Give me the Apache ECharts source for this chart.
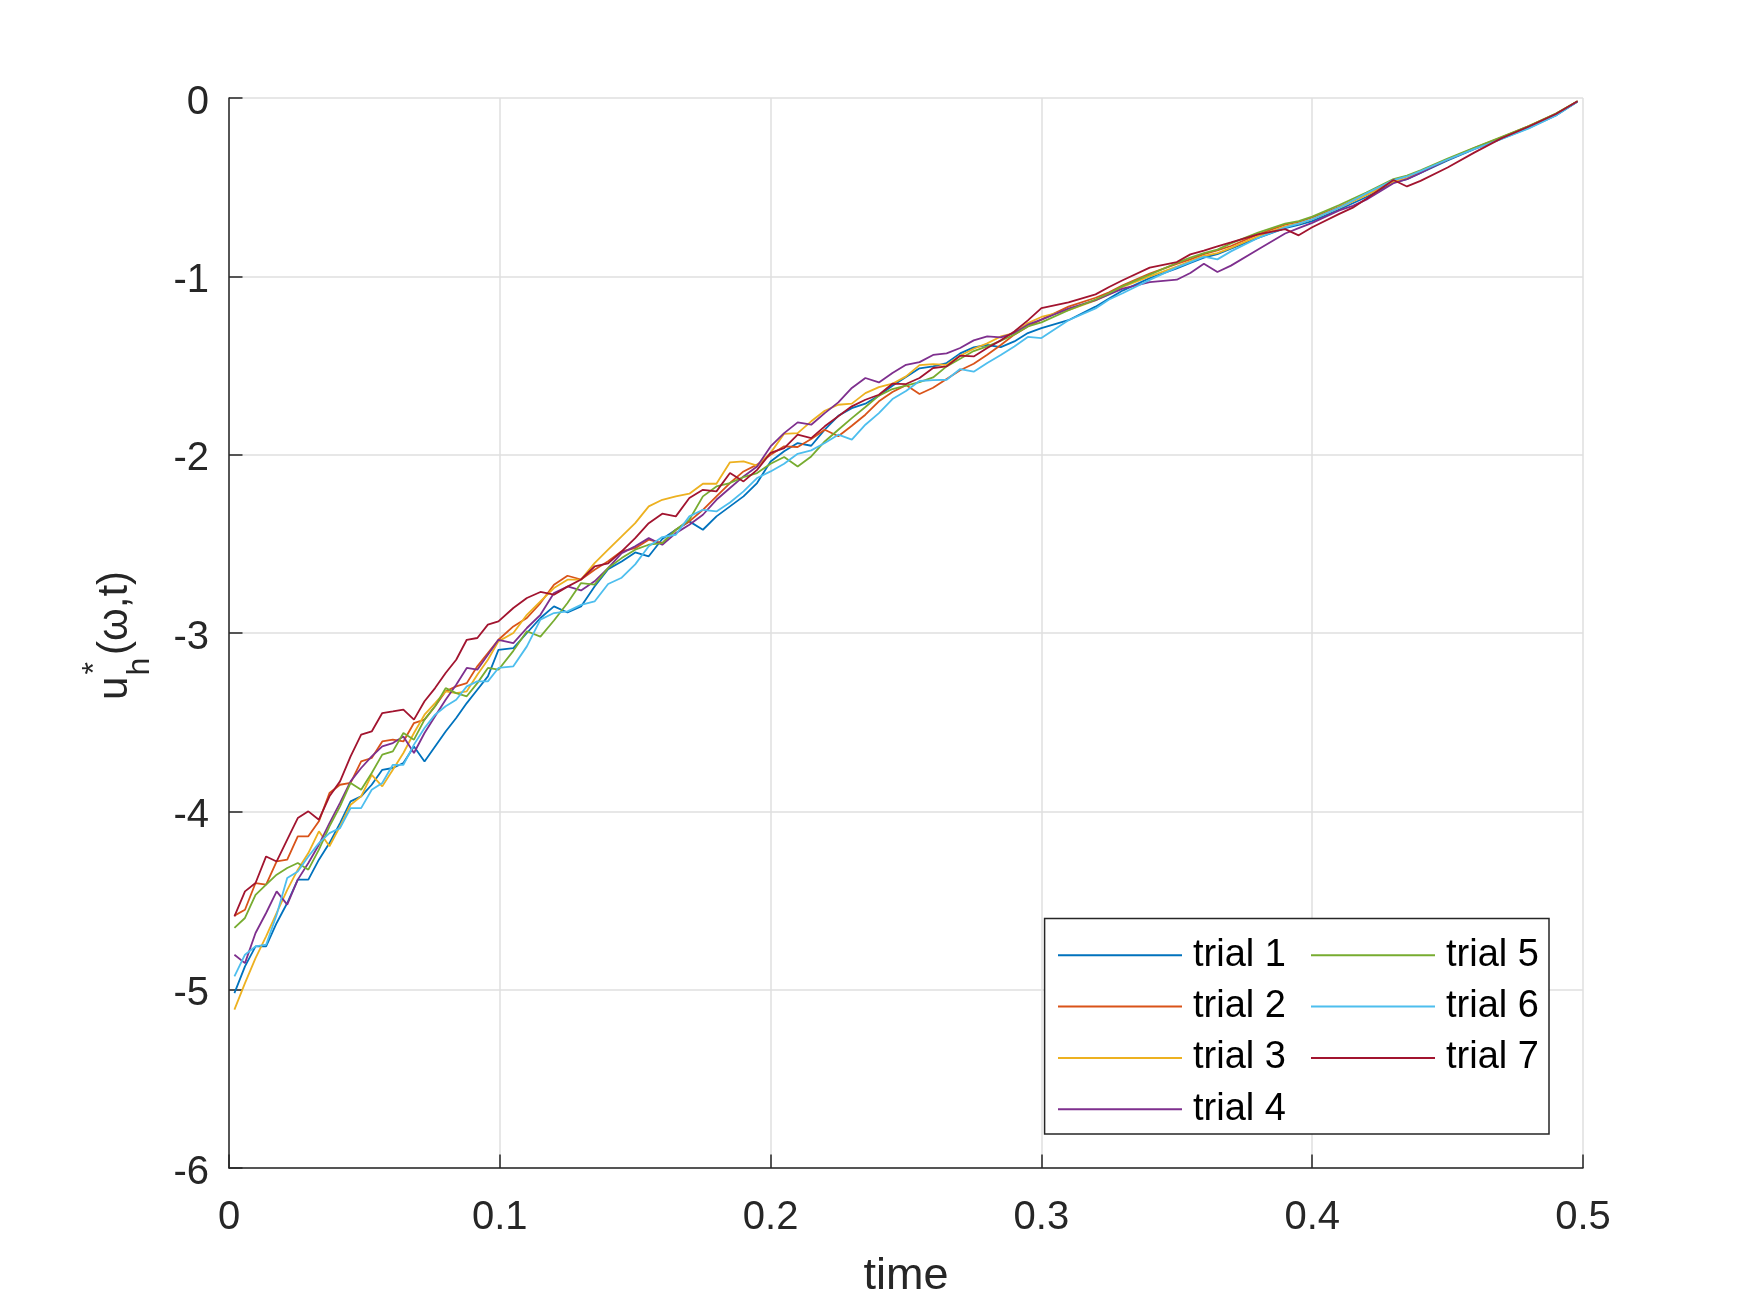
<!DOCTYPE html>
<html><head><meta charset="utf-8">
<script src="https://cdn.jsdelivr.net/npm/echarts@6/dist/echarts.min.js"></script>
<style>html,body{margin:0;padding:0;background:#fff}#c{width:1750px;height:1313px}</style>
</head><body><div id="c"></div>
<script>
// ---- data ----
const time = [
0.002,0.0059,0.0098,0.0137,0.0176,0.0215,0.0254,0.0293,0.0332,0.0371,0.041,0.0449,0.0488,0.0527,0.0566,0.0605,0.0644,0.0683,0.0722,0.0761,0.08,0.0839,0.0878,0.0917,0.0956,0.0995,
0.105,0.11,0.115,0.12,0.125,0.13,0.135,0.14,0.145,0.15,0.155,0.16,0.165,0.17,0.175,0.18,0.185,0.19,0.195,0.2,
0.205,0.21,0.215,0.22,0.225,0.23,0.235,0.24,0.245,0.25,
0.255,0.26,0.265,0.27,0.275,0.28,0.285,0.29,0.295,0.3,
0.31,0.32,0.325,0.33,0.34,0.35,0.355,0.36,0.365,0.37,0.38,0.39,0.395,0.4,0.41,0.415,0.42,0.43,0.435,0.44,0.45,0.46,0.47,0.48,0.49,0.498];

const trial1 = [
-5.019,-4.869,-4.757,-4.757,-4.626,-4.514,-4.383,-4.383,-4.271,-4.178,-4.066,-3.944,-3.916,-3.851,-3.767,-3.757,-3.729,-3.636,-3.72,-3.636,-3.552,-3.477,-3.393,-3.318,-3.243,-3.095,
-3.085,-3.0,-2.916,-2.851,-2.885,-2.851,-2.739,-2.642,-2.599,-2.548,-2.57,-2.473,-2.421,-2.374,-2.421,-2.346,-2.29,-2.234,-2.159,-2.038,
-1.981,-1.935,-1.95,-1.86,-1.782,-1.739,-1.714,-1.669,-1.613,-1.565,
-1.516,-1.505,-1.486,-1.432,-1.398,-1.385,-1.397,-1.365,-1.318,-1.29,
-1.246,-1.17,-1.125,-1.08,-1.01,-0.955,-0.925,-0.895,-0.875,-0.845,-0.785,-0.73,-0.712,-0.69,-0.625,-0.59,-0.555,-0.475,-0.455,-0.42,-0.35,-0.285,-0.228,-0.168,-0.098,-0.02];

const trial2 = [
-4.585,-4.552,-4.402,-4.411,-4.281,-4.271,-4.14,-4.14,-4.056,-3.897,-3.851,-3.841,-3.72,-3.701,-3.608,-3.598,-3.608,-3.505,-3.486,-3.411,-3.327,-3.299,-3.281,-3.187,-3.112,-3.038,
-2.963,-2.916,-2.832,-2.729,-2.679,-2.70,-2.645,-2.598,-2.542,-2.524,-2.477,-2.496,-2.421,-2.374,-2.309,-2.234,-2.159,-2.094,-2.056,-2.0,
-1.953,-1.957,-1.912,-1.86,-1.897,-1.838,-1.776,-1.701,-1.649,-1.61,
-1.66,-1.625,-1.576,-1.527,-1.49,-1.44,-1.385,-1.327,-1.281,-1.243,
-1.17,-1.12,-1.09,-1.05,-0.985,-0.93,-0.905,-0.875,-0.855,-0.83,-0.765,-0.71,-0.695,-0.67,-0.61,-0.575,-0.54,-0.46,-0.44,-0.41,-0.345,-0.28,-0.22,-0.158,-0.088,-0.018];

const trial3 = [
-5.112,-4.963,-4.823,-4.701,-4.57,-4.44,-4.327,-4.234,-4.112,-4.196,-4.084,-3.963,-3.916,-3.795,-3.86,-3.767,-3.673,-3.561,-3.458,-3.393,-3.327,-3.337,-3.327,-3.234,-3.15,-3.047,
-3.0,-2.898,-2.823,-2.748,-2.701,-2.701,-2.608,-2.533,-2.458,-2.384,-2.29,-2.253,-2.234,-2.219,-2.163,-2.163,-2.043,-2.038,-2.062,-1.99,
-1.883,-1.879,-1.813,-1.754,-1.72,-1.714,-1.655,-1.621,-1.602,-1.561,
-1.498,-1.492,-1.496,-1.445,-1.406,-1.376,-1.337,-1.318,-1.262,-1.228,
-1.19,-1.135,-1.10,-1.06,-1.0,-0.945,-0.915,-0.885,-0.87,-0.84,-0.775,-0.72,-0.705,-0.68,-0.615,-0.58,-0.545,-0.47,-0.45,-0.415,-0.345,-0.282,-0.22,-0.158,-0.088,-0.018];

const trial4 = [
-4.804,-4.851,-4.682,-4.57,-4.449,-4.523,-4.383,-4.29,-4.187,-4.066,-3.953,-3.832,-3.757,-3.692,-3.636,-3.617,-3.58,-3.673,-3.561,-3.467,-3.374,-3.29,-3.196,-3.206,-3.122,-3.038,
-3.057,-2.972,-2.898,-2.776,-2.739,-2.761,-2.71,-2.636,-2.552,-2.514,-2.468,-2.505,-2.44,-2.393,-2.337,-2.253,-2.187,-2.122,-2.066,-1.954,
-1.879,-1.819,-1.832,-1.767,-1.707,-1.626,-1.57,-1.595,-1.542,-1.496,
-1.481,-1.441,-1.432,-1.402,-1.359,-1.337,-1.342,-1.318,-1.271,-1.243,
-1.181,-1.134,-1.101,-1.069,-1.032,-1.019,-0.981,-0.929,-0.976,-0.94,-0.85,-0.76,-0.73,-0.70,-0.63,-0.605,-0.57,-0.478,-0.455,-0.42,-0.345,-0.283,-0.222,-0.16,-0.092,-0.02];

const trial5 = [
-4.654,-4.598,-4.468,-4.411,-4.355,-4.318,-4.29,-4.327,-4.215,-4.084,-3.972,-3.841,-3.879,-3.785,-3.682,-3.664,-3.561,-3.598,-3.486,-3.411,-3.309,-3.337,-3.355,-3.281,-3.196,-3.206,
-3.10,-2.99,-3.02,-2.93,-2.832,-2.72,-2.729,-2.636,-2.58,-2.533,-2.505,-2.496,-2.421,-2.365,-2.234,-2.178,-2.159,-2.126,-2.103,-2.051,
-2.013,-2.066,-2.01,-1.926,-1.86,-1.795,-1.733,-1.669,-1.632,-1.613,
-1.593,-1.567,-1.505,-1.462,-1.419,-1.393,-1.361,-1.326,-1.281,-1.258,
-1.19,-1.13,-1.095,-1.055,-0.99,-0.925,-0.895,-0.87,-0.85,-0.815,-0.755,-0.705,-0.69,-0.665,-0.60,-0.565,-0.53,-0.455,-0.435,-0.405,-0.34,-0.278,-0.218,-0.157,-0.087,-0.018];

const trial6 = [
-4.925,-4.804,-4.757,-4.748,-4.58,-4.374,-4.337,-4.253,-4.178,-4.122,-4.094,-3.982,-3.982,-3.879,-3.841,-3.739,-3.739,-3.626,-3.533,-3.458,-3.411,-3.374,-3.299,-3.271,-3.271,-3.196,
-3.187,-3.075,-2.925,-2.888,-2.879,-2.842,-2.823,-2.725,-2.69,-2.615,-2.514,-2.462,-2.449,-2.346,-2.309,-2.318,-2.268,-2.206,-2.131,-2.094,
-2.051,-1.995,-1.976,-1.935,-1.888,-1.916,-1.832,-1.767,-1.688,-1.643,
-1.587,-1.582,-1.58,-1.52,-1.535,-1.486,-1.441,-1.393,-1.34,-1.346,
-1.246,-1.18,-1.13,-1.095,-1.02,-0.95,-0.92,-0.89,-0.905,-0.86,-0.785,-0.725,-0.705,-0.68,-0.615,-0.575,-0.535,-0.46,-0.44,-0.41,-0.345,-0.285,-0.23,-0.17,-0.098,-0.02];

const trial7 = [
-4.589,-4.449,-4.402,-4.253,-4.281,-4.159,-4.038,-4.0,-4.047,-3.916,-3.832,-3.692,-3.57,-3.552,-3.449,-3.44,-3.43,-3.486,-3.383,-3.309,-3.224,-3.15,-3.038,-3.028,-2.953,-2.935,
-2.86,-2.804,-2.77,-2.785,-2.74,-2.70,-2.627,-2.61,-2.542,-2.468,-2.384,-2.331,-2.346,-2.243,-2.197,-2.206,-2.103,-2.15,-2.085,-1.99,
-1.963,-1.888,-1.907,-1.841,-1.785,-1.729,-1.692,-1.664,-1.602,-1.604,
-1.57,-1.514,-1.505,-1.445,-1.449,-1.402,-1.359,-1.309,-1.247,-1.178,
-1.146,-1.101,-1.06,-1.022,-0.951,-0.92,-0.877,-0.856,-0.832,-0.81,-0.765,-0.735,-0.77,-0.725,-0.65,-0.615,-0.565,-0.46,-0.496,-0.465,-0.39,-0.305,-0.225,-0.16,-0.09,-0.018];

const seriesNames = ['trial 1','trial 2','trial 3','trial 4','trial 5','trial 6','trial 7'];
const xTickLabels = ['0','0.1','0.2','0.3','0.4','0.5'];
const yTickLabels = ['-6','-5','-4','-3','-2','-1','0'];

// ---- styling ----
const trials = [trial1, trial2, trial3, trial4, trial5, trial6, trial7];
const colors = ['#0072BD','#D95319','#EDB120','#7E2F8E','#77AC30','#4DBEEE','#A2142F'];
const FONT = '"Liberation Sans", Arial, Helvetica, sans-serif';
const AX = '#262626';

const chart = echarts.init(document.getElementById('c'), null, {renderer: 'canvas'});

const legendCommon = {
  orient: 'vertical', padding: 0, icon: 'rect', itemWidth: 124, itemHeight: 2, itemGap: 13.3,
  top: 936.3, selectedMode: false,
  textStyle: {fontSize: 38, fontFamily: FONT, color: '#000', lineHeight: 38, padding: [0,0,0,6]}
};

const option = {
  animation: false,
  backgroundColor: '#fff',
  textStyle: {fontFamily: FONT},
  grid: {left: 229, right: 167, top: 98, bottom: 145},
  xAxis: {
    type: 'value', min: 0, max: 0.5, interval: 0.1,
    name: 'time', nameLocation: 'middle', nameGap: 86,
    nameTextStyle: {fontSize: 45, color: AX, fontFamily: FONT},
    axisLine: {show: true, onZero: false, lineStyle: {color: AX, width: 1.5}},
    axisTick: {show: true, inside: true, length: 13.5, lineStyle: {color: AX, width: 1.5}},
    axisLabel: {fontSize: 40, color: AX, margin: 29.5, fontFamily: FONT,
      formatter: v => xTickLabels[Math.round(v * 10)]},
    splitLine: {show: true, lineStyle: {color: '#dfdfdf', width: 1.5}}
  },
  yAxis: {
    type: 'value', min: -6, max: 0, interval: 1,
    axisLine: {show: true, onZero: false, lineStyle: {color: AX, width: 1.5}},
    axisTick: {show: true, inside: true, length: 13.5, lineStyle: {color: AX, width: 1.5}},
    axisLabel: {margin: 20,
      formatter: v => '{v|' + yTickLabels[Math.round(v) + 6] + '}',
      rich: {v: {fontSize: 40, color: AX, fontFamily: FONT, padding: [9, 0, 0, 0]}}},
    splitLine: {show: true, lineStyle: {color: '#dfdfdf', width: 1.5}}
  },
  legend: [
    Object.assign({}, legendCommon, {left: 1058, data: seriesNames.slice(0, 4)}),
    Object.assign({}, legendCommon, {left: 1311, data: seriesNames.slice(4)})
  ],
  graphic: [
    {type: 'rect', z: 3, shape: {x: 1044.6, y: 918.5, width: 504.4, height: 215.5},
     style: {fill: '#fff', stroke: AX, lineWidth: 1.5}},
    {type: 'group', x: 130, y: 637, rotation: Math.PI / 2, z: 5, children: [
      {type: 'text', x: -63, y: -14.7, style: {text: 'u', font: '42px ' + FONT, fill: AX, verticalAlign: 'middle', align: 'left'}},
      {type: 'text', x: -38.5, y: 10, style: {text: 'h', font: '32px ' + FONT, fill: AX, verticalAlign: 'middle', align: 'left'}},
      {type: 'text', x: -37.5, y: -34.5, style: {text: '*', font: '32px ' + FONT, fill: AX, verticalAlign: 'middle', align: 'left'}},
      {type: 'text', x: -18, y: -14.7, style: {text: '(\u03c9,t)', font: '42px ' + FONT, fill: AX, verticalAlign: 'middle', align: 'left'}}
    ]}
  ],
  series: trials.map((vals, i) => ({
    name: seriesNames[i], type: 'line', symbol: 'none', showSymbol: false,
    data: time.map((t, k) => [t, vals[k]]),
    lineStyle: {width: 1.8, color: colors[i]}, itemStyle: {color: colors[i]},
    z: 2
  }))
};
chart.setOption(option);
</script></body></html>
